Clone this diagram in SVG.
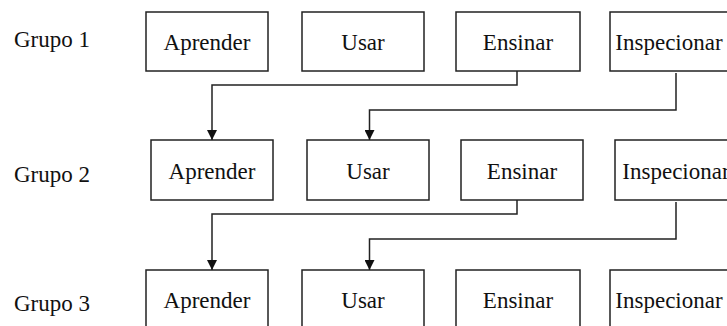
<svg xmlns="http://www.w3.org/2000/svg" width="727" height="326" viewBox="0 0 727 326">
<style>
.box{fill:#fff;stroke:#222;stroke-width:1.5}
.c{fill:none;stroke:#222;stroke-width:1.5}
</style>
<defs>
<marker id="ah" viewBox="0 0 10 10" refX="10" refY="5" markerWidth="10" markerHeight="10" markerUnits="userSpaceOnUse" orient="auto">
<path d="M0,0 L10,5 L0,10 Z" fill="#111"/>
</marker>
</defs>
<rect width="727" height="326" fill="#fff"/>
<g font-family="'Liberation Serif', 'DejaVu Serif', serif" font-size="23" fill="#111">
<g id="labels">
<text x="14" y="47">Grupo 1</text>
<text x="14" y="182">Grupo 2</text>
<text x="14" y="311">Grupo 3</text>
</g>
<g text-anchor="middle">
<g id="g1-aprender"><rect class="box" x="146" y="12" width="122" height="59"/><text x="207" y="50">Aprender</text></g>
<g id="g1-usar"><rect class="box" x="302" y="12" width="122" height="59"/><text x="363" y="50">Usar</text></g>
<g id="g1-ensinar"><rect class="box" x="456" y="12" width="124" height="59"/><text x="518" y="50">Ensinar</text></g>
<g id="g1-inspecionar"><rect class="box" x="610" y="12" width="124" height="59"/><text x="669" y="50">Inspecionar</text></g>
<g id="g2-aprender"><rect class="box" x="151" y="140" width="122" height="60"/><text x="212" y="179">Aprender</text></g>
<g id="g2-usar"><rect class="box" x="307" y="140" width="122" height="60"/><text x="368" y="179">Usar</text></g>
<g id="g2-ensinar"><rect class="box" x="461" y="140" width="122" height="60"/><text x="522" y="179">Ensinar</text></g>
<g id="g2-inspecionar"><rect class="box" x="615" y="140" width="124" height="60"/><text x="676" y="179">Inspecionar</text></g>
<g id="g3-aprender"><rect class="box" x="146" y="270" width="122" height="60"/><text x="207" y="308">Aprender</text></g>
<g id="g3-usar"><rect class="box" x="302" y="270" width="122" height="60"/><text x="363" y="308">Usar</text></g>
<g id="g3-ensinar"><rect class="box" x="456" y="270" width="124" height="60"/><text x="518" y="308">Ensinar</text></g>
<g id="g3-inspecionar"><rect class="box" x="610" y="270" width="124" height="60"/><text x="669" y="308">Inspecionar</text></g>
</g>
</g>
<g id="connectors">
<path class="c" d="M517,71 V85 H212 V140" marker-end="url(#ah)"/>
<path class="c" d="M676,73 V110 H369.5 V140" marker-end="url(#ah)"/>
<path class="c" d="M517,200 V214 H212 V270" marker-end="url(#ah)"/>
<path class="c" d="M676,202 V239 H369.5 V270" marker-end="url(#ah)"/>
</g>
</svg>
